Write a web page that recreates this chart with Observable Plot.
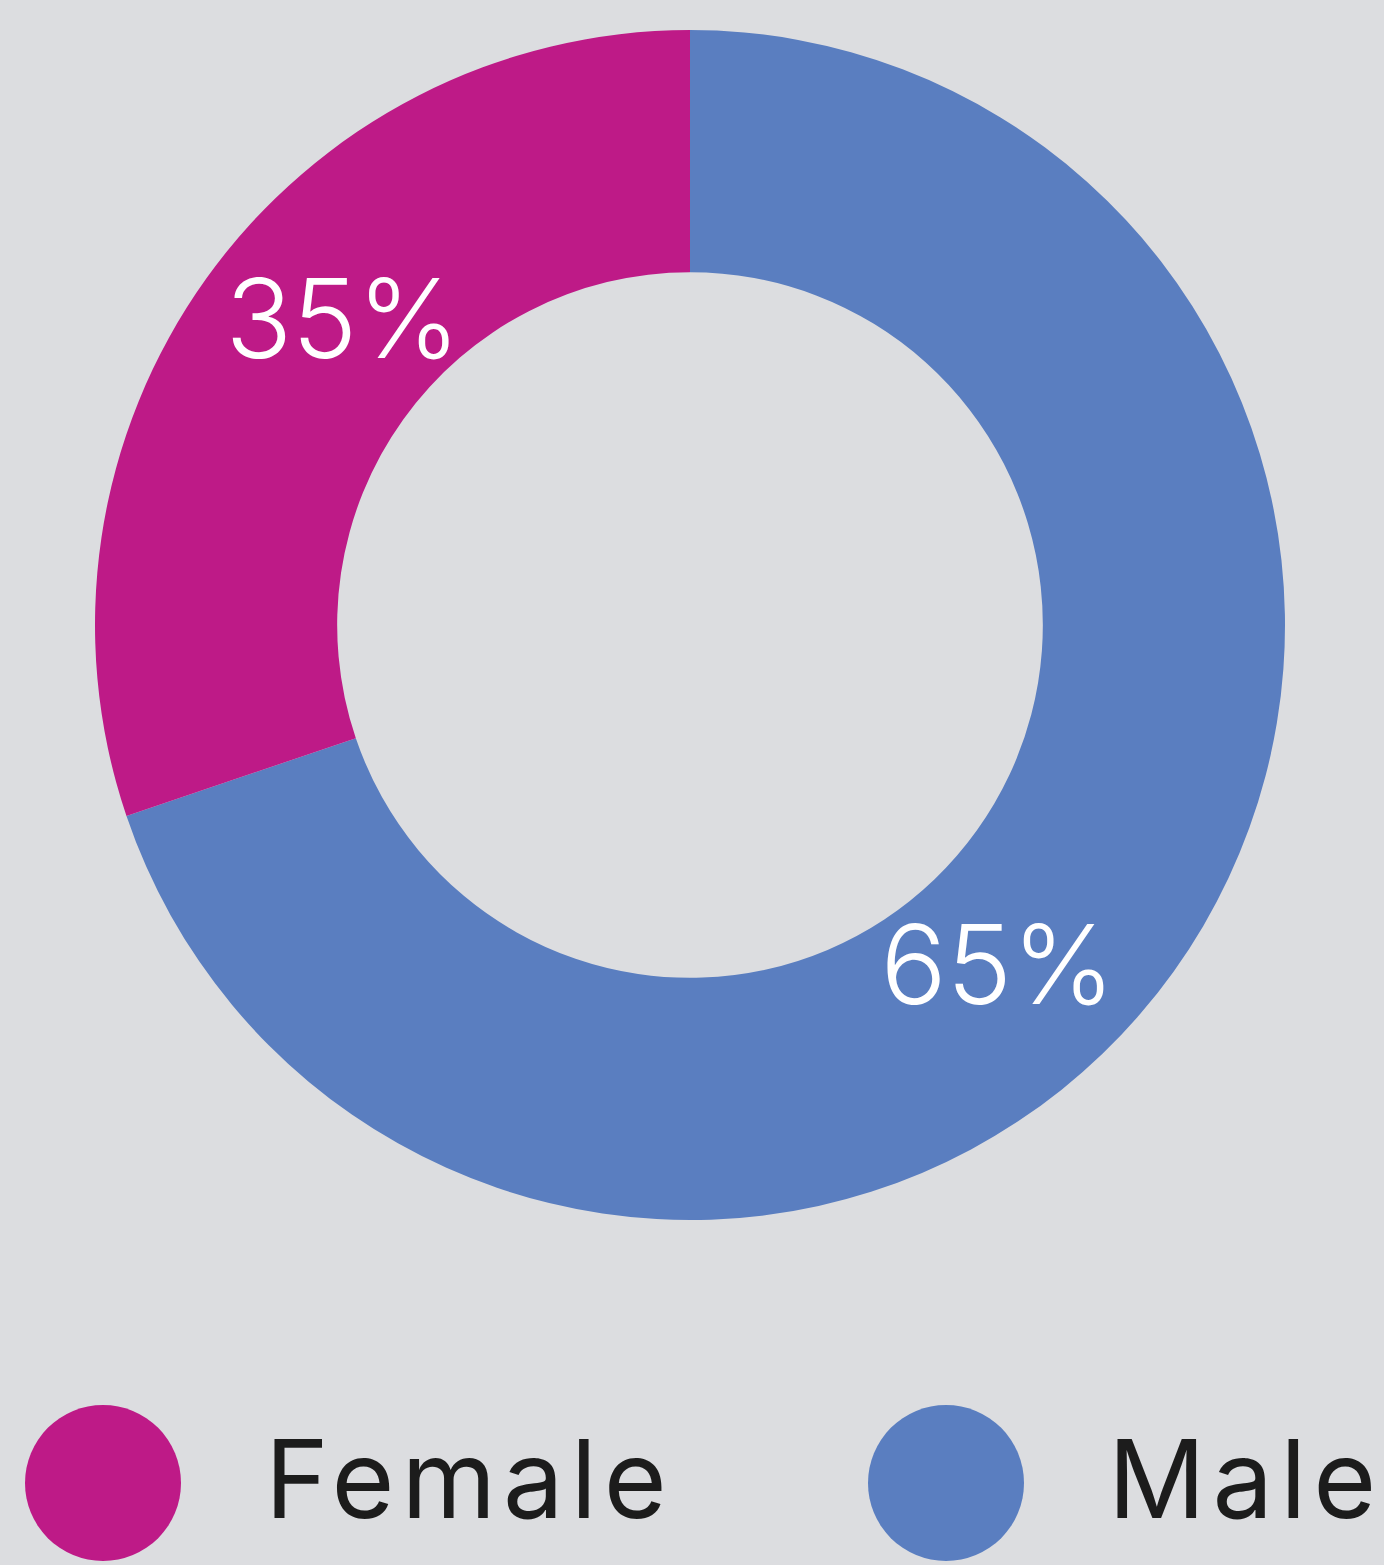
<!DOCTYPE html>
<html>
<head>
<meta charset="utf-8">
<script src="https://cdn.jsdelivr.net/npm/d3@7"></script>
<script src="https://cdn.jsdelivr.net/npm/@observablehq/plot@0.6"></script>
<style>
  html, body { margin: 0; padding: 0; background: #dcdde0; }
  #chart { width: 1384px; }
  #legend { position: relative; width: 1384px; height: 265px; font-family: Inter, "Noto Sans", sans-serif; color: #1c1c1c; }
  .item { position: absolute; top: 105px; height: 156px; display: flex; align-items: center; }
  .sw { width: 156px; height: 156px; border-radius: 50%; flex: none; }
  .lab { margin-left: 84px; font-size: 108px; line-height: 1; letter-spacing: 7px; position: relative; top: -4px; }
</style>
</head>
<body>
<div id="chart"></div>
<div id="legend"></div>
<script>
// ---- data ----
const categories = ["Male", "Female"];
const shares = [69.8, 30.2];          // drawn arc shares
const labels = ["65%", "35%"];        // printed labels
const colors = ["#5a7ec0", "#be1a87"];
const legendOrder = ["Female", "Male"];

const color = Plot.scale({color: {domain: categories, range: colors}});
const total = d3.sum(shares);
let acc = 0;
const labelAt = 0.55; // fraction along each arc where its label sits
const slices = categories.map((c, i) => {
  const a0 = acc / total * 2 * Math.PI;
  acc += shares[i];
  const a1 = acc / total * 2 * Math.PI;
  return {category: c, share: shares[i], label: labels[i], a0, a1, mid: a0 + labelAt * (a1 - a0)};
});

const innerFrac = 0.593, labelFrac = 0.775;

function donut(index, scales) {
  const cx = scales.x(0), cy = scales.y(0);
  const R = scales.x(1) - cx;
  const arc = d3.arc().innerRadius(R * innerFrac).outerRadius(R);
  const g = d3.create("svg:g").attr("transform", `translate(${cx},${cy})`);
  g.selectAll("path").data(slices).join("path")
    .attr("d", d => arc({startAngle: d.a0, endAngle: d.a1}))
    .attr("fill", d => color.apply(d.category));
  return g.node();
}

const chart = Plot.plot({
  width: 1384,
  height: 1300,
  marginLeft: 95, marginRight: 99, marginTop: 30, marginBottom: 80,
  x: {domain: [-1, 1], axis: null},
  y: {domain: [-1, 1], axis: null},
  style: {background: "transparent"},
  marks: [
    donut,
    Plot.text(slices, {
      x: d => labelFrac * Math.sin(d.mid),
      y: d => labelFrac * Math.cos(d.mid),
      text: "label",
      fill: "white",
      fontSize: 110,
      fontWeight: 300,
      fontFamily: "Inter, 'Noto Sans', sans-serif"
    })
  ]
});
document.getElementById("chart").appendChild(chart);

const legend = d3.select("#legend");
const lefts = [25, 868];
legendOrder.forEach((c, i) => {
  const item = legend.append("div").attr("class", "item").style("left", lefts[i] + "px");
  item.append("div").attr("class", "sw").style("background", color.apply(c));
  item.append("div").attr("class", "lab").text(c);
});
</script>
</body>
</html>
